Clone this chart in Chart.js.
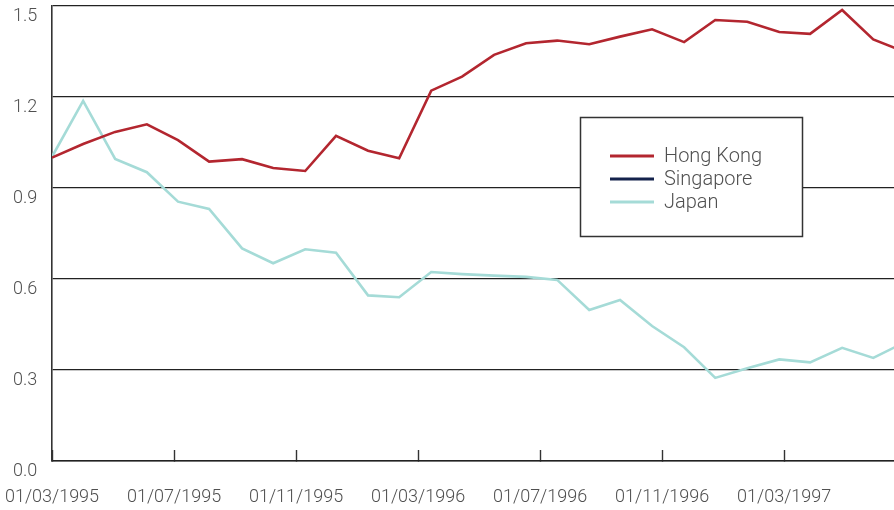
<!DOCTYPE html>
<html>
<head>
<meta charset="utf-8">
<script src="https://cdn.jsdelivr.net/npm/chart.js@4.4.1/dist/chart.umd.min.js"></script>
<style>
  html, body { margin: 0; padding: 0; background: #fff; }
  #wrap { width: 894px; height: 510px; position: relative; }
</style>
</head>
<body>
<div id="wrap"><canvas id="chart"></canvas></div>
<script>
// --- Données ---
// position des points en mois depuis le 01/03/1995
const pointMonths = [0, 1.02, 2.07, 3.11, 4.13, 5.15, 6.23, 7.25, 8.30, 9.31, 10.36, 11.38, 12.43,
    13.44, 14.49, 15.54, 16.56, 17.61, 18.62, 19.67, 20.72, 21.74, 22.79, 23.84, 24.85, 25.90, 26.92, 27.93];

const hongKong = [1.000, 1.045, 1.085, 1.110, 1.058, 0.987, 0.995, 0.966, 0.956, 1.072, 1.023, 0.998, 1.221,
    1.267, 1.339, 1.377, 1.386, 1.374, 1.399, 1.423, 1.381, 1.454, 1.448, 1.414, 1.408, 1.487, 1.390, 1.350];
const singapore = []; // aucune courbe visible sur l'original, seulement dans la légende
const japan = [1.003, 1.187, 0.996, 0.952, 0.855, 0.831, 0.701, 0.652, 0.698, 0.687, 0.546, 0.540, 0.623,
    0.616, 0.611, 0.607, 0.597, 0.498, 0.531, 0.445, 0.375, 0.274, 0.306, 0.335, 0.325, 0.373, 0.340, 0.390];

const tickMonths = [0, 4, 8, 12, 16, 20, 24];
const tickLabels = ['01/03/1995', '01/07/1995', '01/11/1995', '01/03/1996', '01/07/1996', '01/11/1996', '01/03/1997'];
const yTicks = [0, 0.3, 0.6, 0.9, 1.2, 1.5];

const FONT = 'Roboto, "Liberation Sans", Arial, sans-serif';
const TEXT_COLOR = '#505050';

function toPoints(values) {
    return values.map((v, i) => ({ x: pointMonths[i], y: v }));
}

// légende encadrée dessinée dans la zone du graphique
const boxLegend = {
    id: 'boxLegend',
    afterDraw(chart) {
        const ctx = chart.ctx;
        ctx.save();
        ctx.fillStyle = '#fff';
        ctx.strokeStyle = '#333';
        ctx.lineWidth = 1.5;
        ctx.fillRect(580.5, 117.5, 222, 119);
        ctx.strokeRect(580.5, 117.5, 222, 119);
        ctx.font = '300 20px ' + FONT;
        ctx.textBaseline = 'middle';
        chart.data.datasets.forEach((ds, i) => {
            const y = 156 + i * 23;
            ctx.strokeStyle = ds.borderColor;
            ctx.lineWidth = 3;
            ctx.beginPath();
            ctx.moveTo(610, y);
            ctx.lineTo(654, y);
            ctx.stroke();
            ctx.fillStyle = TEXT_COLOR;
            ctx.fillText(ds.label, 664, y + 1);
        });
        ctx.restore();
    }
};

const ctx = document.getElementById('chart').getContext('2d');
new Chart(ctx, {
    type: 'line',
    data: {
        datasets: [
            { label: 'Hong Kong', data: toPoints(hongKong), borderColor: '#b3262f' },
            { label: 'Singapore', data: toPoints(singapore), borderColor: '#14224c' },
            { label: 'Japan', data: toPoints(japan), borderColor: '#a5dbd7' }
        ]
    },
    options: {
        responsive: true,
        maintainAspectRatio: false,
        animation: false,
        layout: { padding: { left: 13, top: 6, right: 0, bottom: 0 } },
        elements: {
            line: { borderWidth: 2.6, tension: 0, borderJoinStyle: 'miter' },
            point: { radius: 0, hoverRadius: 0 }
        },
        plugins: {
            legend: { display: false },
            tooltip: { enabled: false }
        },
        scales: {
            x: {
                type: 'linear',
                min: 0,
                max: 27.6,
                afterBuildTicks: scale => { scale.ticks = tickMonths.map(v => ({ value: v })); },
                afterFit: scale => { scale.height = 49; scale.paddingLeft = 0; scale.paddingRight = 0; },
                grid: { drawOnChartArea: false, tickLength: -11, tickColor: '#333', tickWidth: 1.4 },
                border: { color: '#222', width: 1.6 },
                ticks: {
                    padding: 37,
                    maxRotation: 0,
                    autoSkip: false,
                    color: TEXT_COLOR,
                    font: { family: FONT, size: 18, weight: 300 },
                    callback: v => tickLabels[tickMonths.indexOf(v)]
                }
            },
            y: {
                min: 0,
                max: 1.5,
                afterBuildTicks: scale => { scale.ticks = yTicks.map(v => ({ value: v })); },
                afterFit: scale => { scale.width = 39; scale.paddingTop = 0; scale.paddingBottom = 0; },
                grid: { color: '#222', lineWidth: 1.3, drawTicks: false },
                border: { color: '#333', width: 1.6 },
                ticks: {
                    crossAlign: 'far',
                    labelOffset: 10,
                    color: TEXT_COLOR,
                    font: { family: FONT, size: 18, weight: 300 },
                    callback: v => v.toFixed(1)
                }
            }
        }
    },
    plugins: [boxLegend]
});
</script>
</body>
</html>
